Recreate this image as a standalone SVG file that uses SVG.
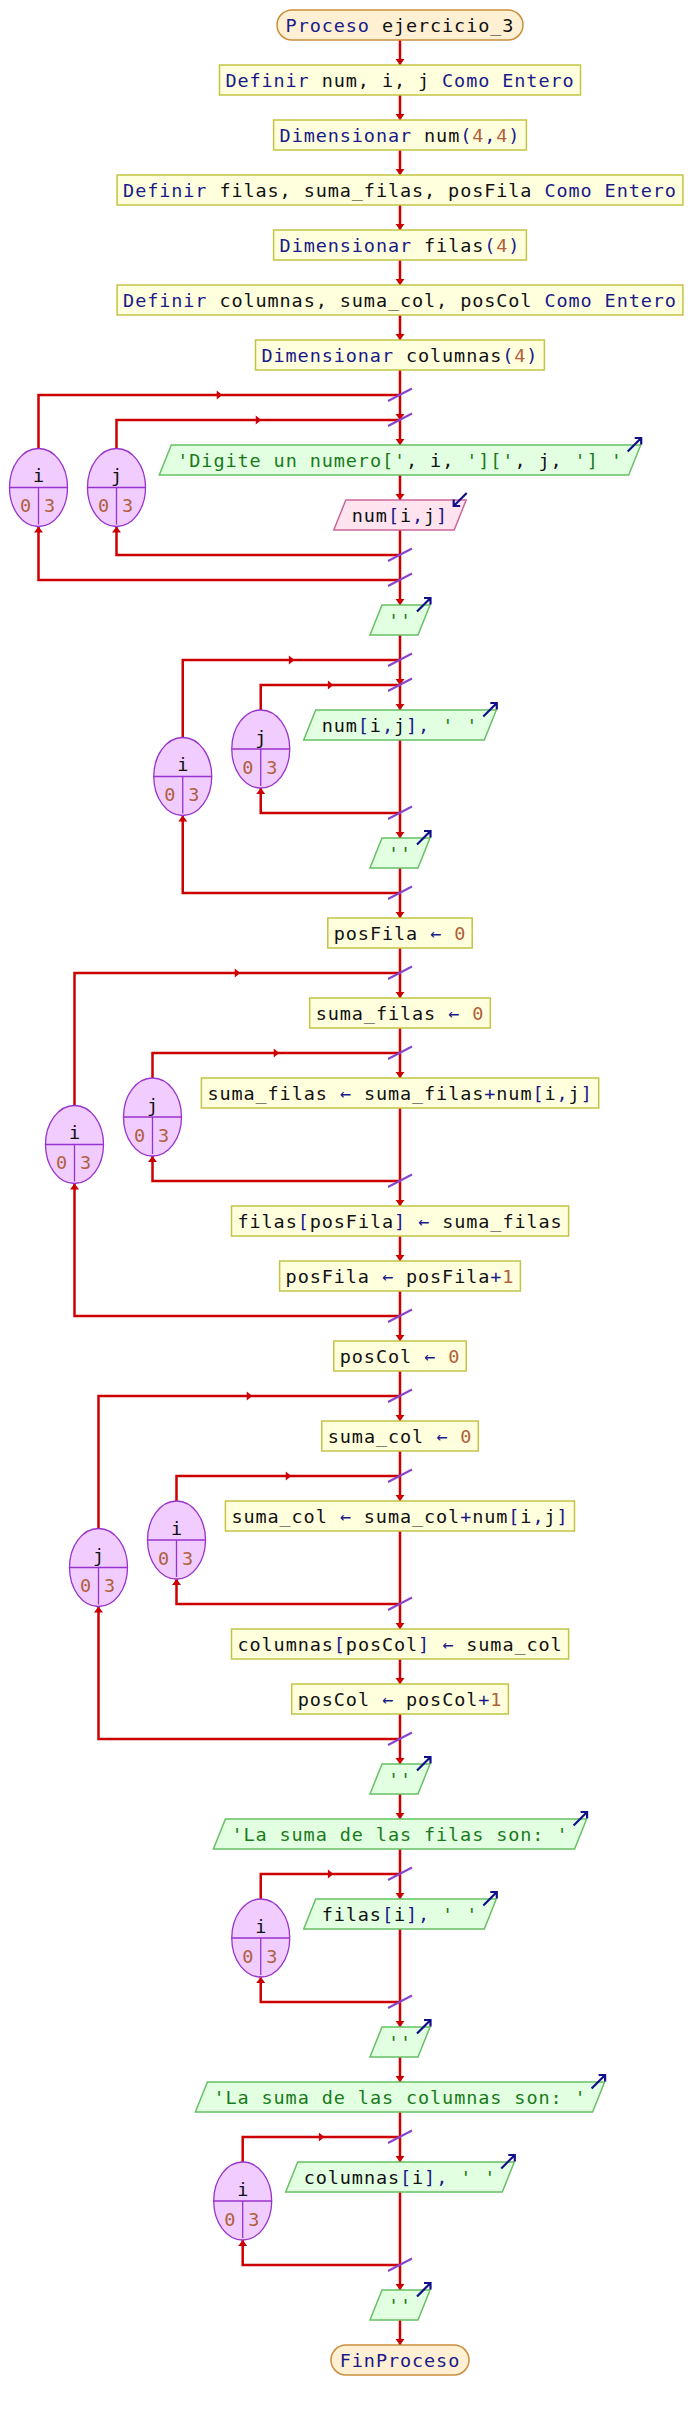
<svg xmlns="http://www.w3.org/2000/svg" width="692" height="2410" viewBox="0 0 692 2410">
<style>
text{font-family:"DejaVu Sans Mono","Liberation Mono",monospace;font-size:18.5px;letter-spacing:0.9px;fill:#111}
.k{fill:#1a1a8a}.n{fill:#b0603a}.s{fill:#1a7a1a}
.box{fill:#ffffdd;stroke:#c4c444;stroke-width:1.5}
.out{fill:#e2ffe2;stroke:#66c066;stroke-width:1.5}
.in{fill:#ffe4f0;stroke:#cc6699;stroke-width:1.5}
.term{fill:#fff0d4;stroke:#cc8f3c;stroke-width:1.5}
.ell{fill:#f0ccff;stroke:#9933cc;stroke-width:1.3}
.dv{stroke:#9933cc;stroke-width:1.3;fill:none}
.ln{stroke:#cc0000;stroke-width:2.5;fill:none}
.ah{fill:#cc0000}
.sl{stroke:#8844cc;stroke-width:2;fill:none}
.ic{stroke:#10108a;stroke-width:2.2;fill:none}
.lt{letter-spacing:0;text-anchor:middle}
</style>
<defs>
<path id="ad" class="ah" d="M-4.5,-6 L4.5,-6 L0,0 Z"/>
<path id="au" class="ah" d="M-4.5,6 L4.5,6 L0,0 Z"/>
<path id="ar" class="ah" d="M-2.5,-4.5 L3,0 L-2.5,4.5 Z"/>
<path id="sl" class="sl" d="M-12,6 L12,-6.5"/>
<path id="io" class="ic" d="M-13.5,13.5 L0,0 M-6.5,0 H0 V6.5"/>
<path id="ii" class="ic" d="M13,-13 L0,0 M0,-6.5 V0 H6.5"/>
</defs>
<rect width="692" height="2410" fill="#fff"/>
<g id="connectors">
<path class="ln" d="M400 40 V2345"/>
<path class="ln" d="M38.5 448.5 V395 H400 M400 580 H38.5 V526.5"/>
<path class="ln" d="M116.5 448.5 V420 H400 M400 555 H116.5 V526.5"/>
<path class="ln" d="M182.75 737.5 V660 H400 M400 893 H182.75 V815.5"/>
<path class="ln" d="M260.75 710 V685 H400 M400 813 H260.75 V788"/>
<path class="ln" d="M74.5 1105.5 V973 H400 M400 1316 H74.5 V1183.5"/>
<path class="ln" d="M152.5 1078 V1053 H400 M400 1181 H152.5 V1156"/>
<path class="ln" d="M98.5 1528.5 V1396 H400 M400 1739 H98.5 V1606.5"/>
<path class="ln" d="M176.5 1501 V1476 H400 M400 1604 H176.5 V1579"/>
<path class="ln" d="M260.75 1899 V1874 H400 M400 2002 H260.75 V1977"/>
<path class="ln" d="M242.7 2162 V2137 H400 M400 2265 H242.7 V2240"/>
<use href="#ad" x="400" y="65"/><use href="#ad" x="400" y="120"/><use href="#ad" x="400" y="175"/><use href="#ad" x="400" y="230"/><use href="#ad" x="400" y="285"/><use href="#ad" x="400" y="340"/><use href="#ad" x="400" y="420"/><use href="#ad" x="400" y="445"/><use href="#ad" x="400" y="500"/><use href="#ad" x="400" y="605"/><use href="#ad" x="400" y="685"/><use href="#ad" x="400" y="710"/><use href="#ad" x="400" y="838"/><use href="#ad" x="400" y="918"/><use href="#ad" x="400" y="998"/><use href="#ad" x="400" y="1078"/><use href="#ad" x="400" y="1206"/><use href="#ad" x="400" y="1261"/><use href="#ad" x="400" y="1341"/><use href="#ad" x="400" y="1421"/><use href="#ad" x="400" y="1501"/><use href="#ad" x="400" y="1629"/><use href="#ad" x="400" y="1684"/><use href="#ad" x="400" y="1764"/><use href="#ad" x="400" y="1819"/><use href="#ad" x="400" y="1899"/><use href="#ad" x="400" y="2027"/><use href="#ad" x="400" y="2082"/><use href="#ad" x="400" y="2162"/><use href="#ad" x="400" y="2290"/><use href="#ad" x="400" y="2345"/>
<use href="#au" x="38.5" y="526.5"/><use href="#au" x="116.5" y="526.5"/><use href="#au" x="182.75" y="815.5"/><use href="#au" x="260.75" y="788"/><use href="#au" x="74.5" y="1183.5"/><use href="#au" x="152.5" y="1156"/><use href="#au" x="98.5" y="1606.5"/><use href="#au" x="176.5" y="1579"/><use href="#au" x="260.75" y="1977"/><use href="#au" x="242.7" y="2240"/>
<use href="#ar" x="219.25" y="395"/><use href="#ar" x="258.25" y="420"/><use href="#ar" x="291.4" y="660"/><use href="#ar" x="330.4" y="685"/><use href="#ar" x="237.25" y="973"/><use href="#ar" x="276.25" y="1053"/><use href="#ar" x="249.25" y="1396"/><use href="#ar" x="288.25" y="1476"/><use href="#ar" x="330.4" y="1874"/><use href="#ar" x="321.35" y="2137"/>
<use href="#sl" x="400" y="395"/><use href="#sl" x="400" y="420"/><use href="#sl" x="400" y="555"/><use href="#sl" x="400" y="580"/><use href="#sl" x="400" y="660"/><use href="#sl" x="400" y="685"/><use href="#sl" x="400" y="813"/><use href="#sl" x="400" y="893"/><use href="#sl" x="400" y="973"/><use href="#sl" x="400" y="1053"/><use href="#sl" x="400" y="1181"/><use href="#sl" x="400" y="1316"/><use href="#sl" x="400" y="1396"/><use href="#sl" x="400" y="1476"/><use href="#sl" x="400" y="1604"/><use href="#sl" x="400" y="1739"/><use href="#sl" x="400" y="1874"/><use href="#sl" x="400" y="2002"/><use href="#sl" x="400" y="2137"/><use href="#sl" x="400" y="2265"/>
</g>
<g id="n1"><rect class="term" x="277" y="10" width="246" height="30" rx="15"/><text x="285.6" y="31.5"><tspan class="k">Proceso</tspan> ejercicio_3</text></g>
<g id="n2"><rect class="box" x="219.5" y="65" width="361" height="30"/><text x="225.4" y="86.5"><tspan class="k">Definir</tspan> num, i, j <tspan class="k">Como Entero</tspan></text></g>
<g id="n3"><rect class="box" x="273.6" y="120" width="252.8" height="30"/><text x="279.6" y="141.5"><tspan class="k">Dimensionar</tspan> num<tspan class="k">(</tspan><tspan class="n">4</tspan><tspan class="k">,</tspan><tspan class="n">4</tspan><tspan class="k">)</tspan></text></g>
<g id="n4"><rect class="box" x="117.1" y="175" width="565.8" height="30"/><text x="123.1" y="196.5"><tspan class="k">Definir</tspan> filas, suma_filas, posFila <tspan class="k">Como Entero</tspan></text></g>
<g id="n5"><rect class="box" x="273.6" y="230" width="252.8" height="30"/><text x="279.6" y="251.5"><tspan class="k">Dimensionar</tspan> filas<tspan class="k">(</tspan><tspan class="n">4</tspan><tspan class="k">)</tspan></text></g>
<g id="n6"><rect class="box" x="117.1" y="285" width="565.8" height="30"/><text x="123.1" y="306.5"><tspan class="k">Definir</tspan> columnas, suma_col, posCol <tspan class="k">Como Entero</tspan></text></g>
<g id="n7"><rect class="box" x="255.5" y="340" width="288.9" height="30"/><text x="261.5" y="361.5"><tspan class="k">Dimensionar</tspan> columnas<tspan class="k">(</tspan><tspan class="n">4</tspan><tspan class="k">)</tspan></text></g>
<g id="L1"><ellipse class="ell" cx="38.5" cy="487.5" rx="29" ry="39"/><path class="dv" d="M9.5 487.5 H67.5 M38.5 487.5 V524.5"/><text class="lt" x="38.5" y="482">i</text><text class="lt n" x="25.5" y="512">0</text><text class="lt n" x="49.5" y="512">3</text></g>
<g id="L2"><ellipse class="ell" cx="116.5" cy="487.5" rx="29" ry="39"/><path class="dv" d="M87.5 487.5 H145.5 M116.5 487.5 V524.5"/><text class="lt" x="116.5" y="482">j</text><text class="lt n" x="103.5" y="512">0</text><text class="lt n" x="127.5" y="512">3</text></g>
<g id="n8"><polygon class="out" points="171.3,445 640.7,445 628.7,475 159.3,475"/><use href="#io" x="641.2" y="438"/><text x="177.3" y="466.5"><tspan class="s">'Digite un numero['</tspan>, i, <tspan class="s">']['</tspan>, j, <tspan class="s">'] '</tspan></text></g>
<g id="n9"><polygon class="in" points="345.8,500 466.2,500 454.2,530 333.8,530"/><use href="#ii" x="453.7" y="506"/><text x="351.8" y="521.5">num<tspan class="k">[</tspan>i<tspan class="k">,</tspan>j<tspan class="k">]</tspan></text></g>
<g id="n10"><polygon class="out" points="382,605 430,605 418,635 370,635"/><use href="#io" x="430.5" y="598"/><text x="388" y="626.5" class="s">''</text></g>
<g id="L3"><ellipse class="ell" cx="182.75" cy="776.5" rx="29" ry="39"/><path class="dv" d="M153.75 776.5 H211.75 M182.75 776.5 V813.5"/><text class="lt" x="182.75" y="771">i</text><text class="lt n" x="169.75" y="801">0</text><text class="lt n" x="193.75" y="801">3</text></g>
<g id="L4"><ellipse class="ell" cx="260.75" cy="749" rx="29" ry="39"/><path class="dv" d="M231.75 749 H289.75 M260.75 749 V786"/><text class="lt" x="260.75" y="743.5">j</text><text class="lt n" x="247.75" y="773.5">0</text><text class="lt n" x="271.75" y="773.5">3</text></g>
<g id="n11"><polygon class="out" points="315.7,710 496.3,710 484.3,740 303.7,740"/><use href="#io" x="496.8" y="703"/><text x="321.7" y="731.5">num<tspan class="k">[</tspan>i<tspan class="k">,</tspan>j<tspan class="k">],</tspan> <tspan class="s">' '</tspan></text></g>
<g id="n12"><polygon class="out" points="382,838 430,838 418,868 370,868"/><use href="#io" x="430.5" y="831"/><text x="388" y="859.5" class="s">''</text></g>
<g id="n13"><rect class="box" x="327.8" y="918" width="144.4" height="30"/><text x="333.8" y="939.5">posFila <tspan class="k">←</tspan> <tspan class="n">0</tspan></text></g>
<g id="L5"><ellipse class="ell" cx="74.5" cy="1144.5" rx="29" ry="39"/><path class="dv" d="M45.5 1144.5 H103.5 M74.5 1144.5 V1181.5"/><text class="lt" x="74.5" y="1139">i</text><text class="lt n" x="61.5" y="1169">0</text><text class="lt n" x="85.5" y="1169">3</text></g>
<g id="n14"><rect class="box" x="309.7" y="998" width="180.6" height="30"/><text x="315.7" y="1019.5">suma_filas <tspan class="k">←</tspan> <tspan class="n">0</tspan></text></g>
<g id="L6"><ellipse class="ell" cx="152.5" cy="1117" rx="29" ry="39"/><path class="dv" d="M123.5 1117 H181.5 M152.5 1117 V1154"/><text class="lt" x="152.5" y="1111.5">j</text><text class="lt n" x="139.5" y="1141.5">0</text><text class="lt n" x="163.5" y="1141.5">3</text></g>
<g id="n15"><rect class="box" x="201.4" y="1078" width="397.3" height="30"/><text x="207.4" y="1099.5">suma_filas <tspan class="k">←</tspan> suma_filas<tspan class="k">+</tspan>num<tspan class="k">[</tspan>i<tspan class="k">,</tspan>j<tspan class="k">]</tspan></text></g>
<g id="n16"><rect class="box" x="231.5" y="1206" width="337.1" height="30"/><text x="237.5" y="1227.5">filas<tspan class="k">[</tspan>posFila<tspan class="k">]</tspan> <tspan class="k">←</tspan> suma_filas</text></g>
<g id="n17"><rect class="box" x="279.6" y="1261" width="240.8" height="30"/><text x="285.6" y="1282.5">posFila <tspan class="k">←</tspan> posFila<tspan class="k">+</tspan><tspan class="n">1</tspan></text></g>
<g id="n18"><rect class="box" x="333.8" y="1341" width="132.4" height="30"/><text x="339.8" y="1362.5">posCol <tspan class="k">←</tspan> <tspan class="n">0</tspan></text></g>
<g id="L7"><ellipse class="ell" cx="98.5" cy="1567.5" rx="29" ry="39"/><path class="dv" d="M69.5 1567.5 H127.5 M98.5 1567.5 V1604.5"/><text class="lt" x="98.5" y="1562">j</text><text class="lt n" x="85.5" y="1592">0</text><text class="lt n" x="109.5" y="1592">3</text></g>
<g id="n19"><rect class="box" x="321.8" y="1421" width="156.5" height="30"/><text x="327.8" y="1442.5">suma_col <tspan class="k">←</tspan> <tspan class="n">0</tspan></text></g>
<g id="L8"><ellipse class="ell" cx="176.5" cy="1540" rx="29" ry="39"/><path class="dv" d="M147.5 1540 H205.5 M176.5 1540 V1577"/><text class="lt" x="176.5" y="1534.5">i</text><text class="lt n" x="163.5" y="1564.5">0</text><text class="lt n" x="187.5" y="1564.5">3</text></g>
<g id="n20"><rect class="box" x="225.4" y="1501" width="349.1" height="30"/><text x="231.4" y="1522.5">suma_col <tspan class="k">←</tspan> suma_col<tspan class="k">+</tspan>num<tspan class="k">[</tspan>i<tspan class="k">,</tspan>j<tspan class="k">]</tspan></text></g>
<g id="n21"><rect class="box" x="231.5" y="1629" width="337.1" height="30"/><text x="237.5" y="1650.5">columnas<tspan class="k">[</tspan>posCol<tspan class="k">]</tspan> <tspan class="k">←</tspan> suma_col</text></g>
<g id="n22"><rect class="box" x="291.7" y="1684" width="216.7" height="30"/><text x="297.7" y="1705.5">posCol <tspan class="k">←</tspan> posCol<tspan class="k">+</tspan><tspan class="n">1</tspan></text></g>
<g id="n23"><polygon class="out" points="382,1764 430,1764 418,1794 370,1794"/><use href="#io" x="430.5" y="1757"/><text x="388" y="1785.5" class="s">''</text></g>
<g id="n24"><polygon class="out" points="225.4,1819 586.6,1819 574.6,1849 213.4,1849"/><use href="#io" x="587.1" y="1812"/><text x="231.4" y="1840.5" class="s">'La suma de las filas son: '</text></g>
<g id="L9"><ellipse class="ell" cx="260.75" cy="1938" rx="29" ry="39"/><path class="dv" d="M231.75 1938 H289.75 M260.75 1938 V1975"/><text class="lt" x="260.75" y="1932.5">i</text><text class="lt n" x="247.75" y="1962.5">0</text><text class="lt n" x="271.75" y="1962.5">3</text></g>
<g id="n25"><polygon class="out" points="315.7,1899 496.3,1899 484.3,1929 303.7,1929"/><use href="#io" x="496.8" y="1892"/><text x="321.7" y="1920.5">filas<tspan class="k">[</tspan>i<tspan class="k">],</tspan> <tspan class="s">' '</tspan></text></g>
<g id="n26"><polygon class="out" points="382,2027 430,2027 418,2057 370,2057"/><use href="#io" x="430.5" y="2020"/><text x="388" y="2048.5" class="s">''</text></g>
<g id="n27"><polygon class="out" points="207.4,2082 604.6,2082 592.6,2112 195.4,2112"/><use href="#io" x="605.1" y="2075"/><text x="213.4" y="2103.5" class="s">'La suma de las columnas son: '</text></g>
<g id="L10"><ellipse class="ell" cx="242.7" cy="2201" rx="29" ry="39"/><path class="dv" d="M213.7 2201 H271.7 M242.7 2201 V2238"/><text class="lt" x="242.7" y="2195.5">i</text><text class="lt n" x="229.7" y="2225.5">0</text><text class="lt n" x="253.7" y="2225.5">3</text></g>
<g id="n28"><polygon class="out" points="297.7,2162 514.3,2162 502.3,2192 285.7,2192"/><use href="#io" x="514.8" y="2155"/><text x="303.7" y="2183.5">columnas<tspan class="k">[</tspan>i<tspan class="k">],</tspan> <tspan class="s">' '</tspan></text></g>
<g id="n29"><polygon class="out" points="382,2290 430,2290 418,2320 370,2320"/><use href="#io" x="430.5" y="2283"/><text x="388" y="2311.5" class="s">''</text></g>
<g id="n30"><rect class="term" x="331" y="2345" width="138" height="30" rx="15"/><text x="339.8" y="2366.5" class="k">FinProceso</text></g>
</svg>
